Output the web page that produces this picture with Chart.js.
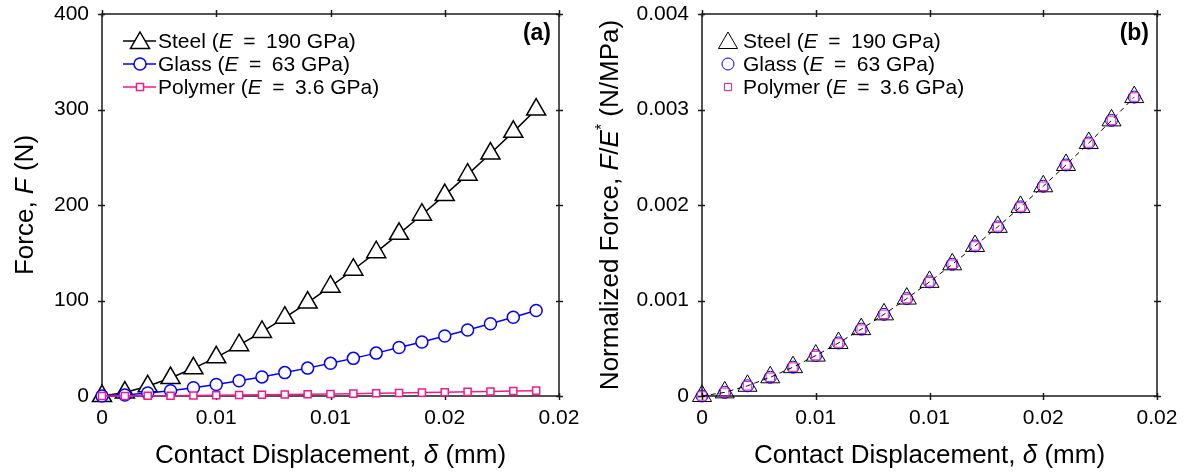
<!DOCTYPE html>
<html>
<head>
<meta charset="utf-8">
<script src="https://cdn.jsdelivr.net/npm/chart.js@4.4.1/dist/chart.umd.min.js"></script>
<style>
  html, body { margin: 0; padding: 0; background: #fff; }
  #wrap { position: relative; width: 1186px; height: 474px; }
  .panel { position: absolute; top: 0; width: 593px; height: 474px; }
  #panelA { left: 0; }
  #panelB { left: 593px; }
</style>
</head>
<body>
<div id="wrap">
  <div class="panel" id="panelA"><canvas id="chartA" width="593" height="474"></canvas></div>
  <div class="panel" id="panelB"><canvas id="chartB" width="593" height="474"></canvas></div>
</div>
<script>
// contact displacement (mm)
const disp = [0, 0.001, 0.002, 0.003, 0.004, 0.005, 0.006, 0.007, 0.008, 0.009,
              0.010, 0.011, 0.012, 0.013, 0.014, 0.015, 0.016, 0.017, 0.018, 0.019];

// force (N)
const steelForce = [0, 3.6, 10.2, 18.8, 29.0, 40.5, 53.2, 67.1, 82.0, 97.8,
                    114.5, 132.2, 150.6, 169.8, 189.8, 210.4, 231.8, 253.9, 276.6, 300.0];
const glassForce = [0, 1.1, 3.1, 5.6, 8.6, 12.1, 15.9, 20.0, 24.5, 29.2,
                    34.2, 39.4, 44.9, 50.7, 56.6, 62.8, 69.2, 75.7, 82.5, 89.5];
const polymerForce = [0, 0.07, 0.19, 0.35, 0.54, 0.76, 0.99, 1.25, 1.53, 1.83,
                      2.14, 2.47, 2.81, 3.17, 3.54, 3.93, 4.33, 4.74, 5.16, 5.6];

// normalized force F/E* (N/MPa)
const normSteel = [0, 0.000038, 0.000107, 0.000196, 0.000302, 0.000423, 0.000555, 0.000700, 0.000855, 0.001020,
                   0.001195, 0.001379, 0.001571, 0.001771, 0.001980, 0.002196, 0.002419, 0.002649, 0.002886, 0.003130];
const normGlass = [0, 0.000038, 0.000107, 0.000196, 0.000302, 0.000423, 0.000555, 0.000700, 0.000855, 0.001020,
                   0.001195, 0.001379, 0.001571, 0.001771, 0.001980, 0.002196, 0.002419, 0.002649, 0.002886, 0.003130];
const normPolymer = [0, 0.000038, 0.000107, 0.000196, 0.000302, 0.000423, 0.000555, 0.000700, 0.000855, 0.001020,
                     0.001195, 0.001379, 0.001571, 0.001771, 0.001980, 0.002196, 0.002419, 0.002649, 0.002886, 0.003130];

// ticks
const xTicks = [0, 0.005, 0.01, 0.015, 0.02];
const xTickLabels = ['0', '0.01', '0.01', '0.02', '0.02'];
const forceTicks = [0, 100, 200, 300, 400];
const forceTickLabels = ['0', '100', '200', '300', '400'];
const normTicks = [0, 0.001, 0.002, 0.003, 0.004];
const normTickLabels = ['0', '0.001', '0.002', '0.003', '0.004'];

const FONT = '"Liberation Sans", Arial, Helvetica, sans-serif';
const AXIS = '#1a1a1a';
const BLUE = '#0000ff';
const PINK = '#ee1a8e';

const pts = (ys) => disp.map((x, i) => ({ x: x, y: ys[i] }));

// segments: [text, style]  style: '' normal, 'i' italic, 's' superscript
function richText(ctx, parts, x, y, size, align) {
  const fontOf = (p) => (p[1] === 'i' ? 'italic ' : '') + (p[1] === 's' ? Math.round(size * 0.62) : size) + 'px ' + FONT;
  let total = 0;
  parts.forEach((p) => { ctx.font = fontOf(p); total += ctx.measureText(p[0]).width; });
  let cx = align === 'center' ? x - total / 2 : x;
  parts.forEach((p) => {
    ctx.font = fontOf(p);
    ctx.fillText(p[0], cx, p[1] === 's' ? y - size * 0.42 : y);
    cx += ctx.measureText(p[0]).width;
  });
}

function marker(ctx, style, x, y, r) {
  ctx.beginPath();
  if (style === 'triangle') {
    ctx.moveTo(x, y - r);
    ctx.lineTo(x + r * 0.866, y + r * 0.5);
    ctx.lineTo(x - r * 0.866, y + r * 0.5);
    ctx.closePath();
  } else if (style === 'circle') {
    ctx.arc(x, y, r, 0, Math.PI * 2);
  } else {
    const h = r * Math.SQRT1_2;
    ctx.rect(x - h, y - h, 2 * h, 2 * h);
  }
}

// box round the plot with ticks crossing each edge
const framePlugin = {
  id: 'frame',
  beforeDatasetsDraw(chart) {
    const { ctx, chartArea: a, scales } = chart;
    const x = scales.x, y = scales.y;
    ctx.save();
    ctx.strokeStyle = AXIS;
    ctx.lineWidth = 1.5;
    ctx.strokeRect(a.left, a.top, a.right - a.left, a.bottom - a.top);
    ctx.beginPath();
    x.ticks.forEach((t) => {
      const px = Math.round(x.getPixelForValue(t.value)) + 0.5;
      ctx.moveTo(px, a.bottom - 3); ctx.lineTo(px, a.bottom + 4);
      ctx.moveTo(px, a.top - 4); ctx.lineTo(px, a.top + 3);
    });
    y.ticks.forEach((t) => {
      const py = Math.round(y.getPixelForValue(t.value)) + 0.5;
      ctx.moveTo(a.left - 4, py); ctx.lineTo(a.left + 3, py);
      ctx.moveTo(a.right - 3, py); ctx.lineTo(a.right + 4, py);
    });
    ctx.stroke();
    ctx.restore();
  }
};

// axis titles, panel tag and legend
function textPlugin(cfg) {
  return {
    id: 'panelText',
    afterDraw(chart) {
      const { ctx, chartArea: a } = chart;
      ctx.save();
      ctx.fillStyle = '#000';
      ctx.textBaseline = 'alphabetic';
      ctx.textAlign = 'left';

      richText(ctx, [['Contact Displacement, ', ''], ['\u03b4', 'i'], [' (mm)', '']], (a.left + a.right) / 2, 463, 26, 'center');

      ctx.save();
      ctx.translate(cfg.yTitleX, (a.top + a.bottom) / 2);
      ctx.rotate(-Math.PI / 2);
      richText(ctx, cfg.yTitle, 0, 0, 26, 'center');
      ctx.restore();

      ctx.font = 'bold 23px ' + FONT;
      ctx.textAlign = 'right';
      ctx.fillText(cfg.tag, a.right - 8, 40);
      ctx.textAlign = 'left';

      cfg.legend.forEach((row, i) => {
        const by = 48 + i * 23;
        const my = by - 7;
        ctx.strokeStyle = row.color;
        ctx.lineWidth = row.width;
        if (row.line) {
          ctx.beginPath();
          ctx.moveTo(cfg.legendX - 17, my);
          ctx.lineTo(cfg.legendX + 16, my);
          ctx.stroke();
        }
        marker(ctx, row.style, cfg.legendX, row.style === 'triangle' ? my + 2 : my, row.r);
        if (row.fill) { ctx.fillStyle = '#fff'; ctx.fill(); }
        ctx.stroke();
        ctx.fillStyle = '#000';
        richText(ctx, row.text, cfg.textX, by, 21, 'left');
      });
      ctx.restore();
    }
  };
}

const legendText = [
  [['Steel (', ''], ['E', 'i'], ['\u2002=\u2002190 GPa)', '']],
  [['Glass (', ''], ['E', 'i'], ['\u2002=\u200263 GPa)', '']],
  [['Polymer (', ''], ['E', 'i'], ['\u2002=\u20023.6 GPa)', '']]
];

function options(yAxis) {
  return {
    responsive: false,
    animation: false,
    events: [],
    layout: { padding: { left: 0, right: yAxis.padRight, top: 14, bottom: 0 } },
    plugins: { legend: { display: false }, tooltip: { enabled: false } },
    scales: {
      x: {
        type: 'linear', min: 0, max: 0.02,
        afterBuildTicks: (s) => { s.ticks = xTicks.map((v) => ({ value: v })); },
        afterFit: (s) => { s.height = 78; s.paddingLeft = 0; s.paddingRight = 0; },
        grid: { display: false, drawTicks: false },
        border: { display: false },
        ticks: {
          color: '#000', font: { family: FONT, size: 21 }, padding: 10,
          maxRotation: 0, autoSkip: false,
          callback: (v, i) => xTickLabels[i]
        }
      },
      y: {
        type: 'linear', min: 0, max: yAxis.max,
        afterBuildTicks: (s) => { s.ticks = yAxis.ticks.map((v) => ({ value: v })); },
        afterFit: (s) => { s.width = yAxis.width; s.paddingTop = 0; s.paddingBottom = 0; },
        grid: { display: false, drawTicks: false },
        border: { display: false },
        ticks: {
          color: '#000', font: { family: FONT, size: 21 }, padding: 13,
          autoSkip: false,
          callback: (v, i) => yAxis.labels[i]
        }
      }
    }
  };
}

new Chart(document.getElementById('chartA'), {
  type: 'scatter',
  data: {
    datasets: [
      { label: 'Steel', data: pts(steelForce), showLine: true, borderColor: '#000', borderWidth: 1.5,
        pointStyle: 'triangle', pointRadius: 11, pointBorderWidth: 1.5, pointBorderColor: '#000',
        pointBackgroundColor: '#fff', clip: false, order: 3 },
      { label: 'Glass', data: pts(glassForce), showLine: true, borderColor: BLUE, borderWidth: 1.5,
        pointStyle: 'circle', pointRadius: 6, pointBorderWidth: 1.5, pointBorderColor: BLUE,
        pointBackgroundColor: '#fff', clip: false, order: 2 },
      { label: 'Polymer', data: pts(polymerForce), showLine: true, borderColor: PINK, borderWidth: 1.5,
        pointStyle: 'rect', pointRadius: 5, pointBorderWidth: 1.5, pointBorderColor: PINK,
        pointBackgroundColor: '#fff', clip: false, order: 1 }
    ]
  },
  options: options({ max: 400, ticks: forceTicks, labels: forceTickLabels, width: 102, padRight: 34 }),
  plugins: [framePlugin, textPlugin({
    yTitle: [['Force, ', ''], ['F', 'i'], [' (N)', '']],
    yTitleX: 33,
    tag: '(a)',
    legendX: 140, textX: 158,
    legend: [
      { style: 'triangle', color: '#000', width: 1.5, r: 11, line: true, fill: true, text: legendText[0] },
      { style: 'circle', color: BLUE, width: 1.5, r: 6, line: true, fill: true, text: legendText[1] },
      { style: 'rect', color: PINK, width: 1.5, r: 5, line: true, fill: true, text: legendText[2] }
    ]
  })]
});

new Chart(document.getElementById('chartB'), {
  type: 'scatter',
  data: {
    datasets: [
      { label: 'fit', data: pts(normSteel), showLine: true, borderColor: '#000', borderWidth: 1,
        borderDash: [5, 4], pointRadius: 0, clip: false, order: 0 },
      { label: 'Steel', data: pts(normSteel), pointStyle: 'triangle', pointRadius: 11, pointBorderWidth: 1,
        pointBorderColor: '#000', pointBackgroundColor: 'rgba(0,0,0,0)', clip: false, order: 3 },
      { label: 'Glass', data: pts(normGlass), pointStyle: 'circle', pointRadius: 6, pointBorderWidth: 1,
        pointBorderColor: BLUE, pointBackgroundColor: 'rgba(0,0,0,0)', clip: false, order: 2 },
      { label: 'Polymer', data: pts(normPolymer), pointStyle: 'rect', pointRadius: 6, pointBorderWidth: 1,
        pointBorderColor: PINK, pointBackgroundColor: 'rgba(0,0,0,0)', clip: false, order: 1 }
    ]
  },
  options: options({ max: 0.004, ticks: normTicks, labels: normTickLabels, width: 109, padRight: 29 }),
  plugins: [framePlugin, textPlugin({
    yTitle: [['Normalized Force, ', ''], ['F', 'i'], ['/', ''], ['E', 'i'], ['*', 's'], [' (N/MPa)', '']],
    yTitleX: 25,
    tag: '(b)',
    legendX: 135, textX: 150,
    legend: [
      { style: 'triangle', color: '#000', width: 1, r: 11, line: false, fill: false, text: legendText[0] },
      { style: 'circle', color: BLUE, width: 1, r: 6, line: false, fill: false, text: legendText[1] },
      { style: 'rect', color: PINK, width: 1, r: 5, line: false, fill: false, text: legendText[2] }
    ]
  })]
});
</script>
</body>
</html>
